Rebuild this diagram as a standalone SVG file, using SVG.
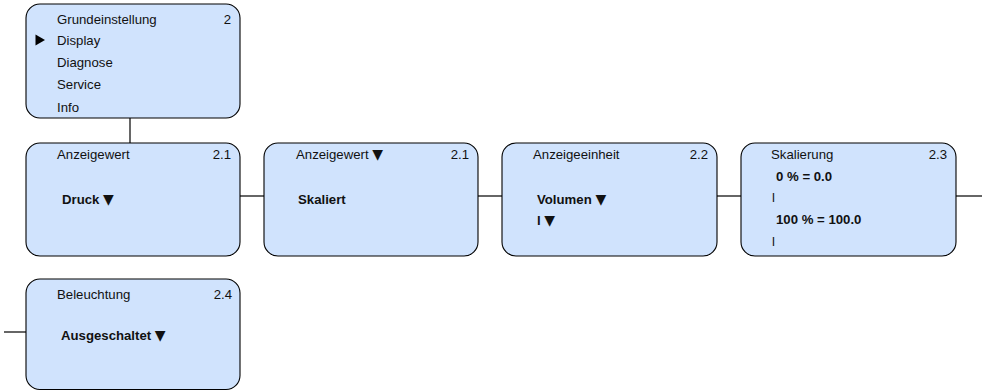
<svg xmlns="http://www.w3.org/2000/svg" width="982" height="391" viewBox="0 0 982 391">
<style>
.box{fill:#d0e3fd;stroke:#000;stroke-width:1.1}
.t{font-family:"Liberation Sans",Arial,sans-serif;font-size:13.2px;fill:#111}
.b{font-weight:bold}
.n{text-anchor:end}
.c{stroke:#000;stroke-width:1.2;fill:none}
.tri{font-family:"DejaVu Sans",sans-serif;font-size:14px}
</style>
<rect width="982" height="391" fill="#fff"/>
<g id="connectors">
<line class="c" x1="130" y1="118" x2="130" y2="143"/>
<line class="c" x1="240" y1="196" x2="264" y2="196"/>
<line class="c" x1="478" y1="196" x2="502" y2="196"/>
<line class="c" x1="717" y1="196" x2="741" y2="196"/>
<line class="c" x1="956" y1="196" x2="982" y2="196"/>
<line class="c" x1="4" y1="332" x2="26" y2="332"/>
</g>
<g id="menu">
<rect class="box" x="26" y="4" width="214" height="114" rx="14"/>
<text class="t" x="57" y="24">Grundeinstellung</text>
<text class="t n" x="231" y="24">2</text>
<path d="M35.5 34.5 L45 40 L35.5 45.5 Z" fill="#000"/>
<text class="t" x="57" y="45">Display</text>
<text class="t" x="57" y="67">Diagnose</text>
<text class="t" x="57" y="89">Service</text>
<text class="t" x="57" y="112">Info</text>
</g>
<g id="anzeigewert1">
<rect class="box" x="26" y="143" width="214" height="113" rx="14"/>
<text class="t" x="57" y="159">Anzeigewert</text>
<text class="t n" x="231" y="159">2.1</text>
<text class="t b" x="62" y="204">Druck <tspan class="tri">▼</tspan></text>
</g>
<g id="anzeigewert2">
<rect class="box" x="264" y="143" width="214" height="113" rx="14"/>
<text class="t" x="296" y="159">Anzeigewert <tspan class="tri">▼</tspan></text>
<text class="t n" x="469" y="159">2.1</text>
<text class="t b" x="298" y="204">Skaliert</text>
</g>
<g id="anzeigeeinheit">
<rect class="box" x="502" y="143" width="215" height="113" rx="14"/>
<text class="t" x="533" y="159">Anzeigeeinheit</text>
<text class="t n" x="708" y="159">2.2</text>
<text class="t b" x="537" y="204">Volumen <tspan class="tri">▼</tspan></text>
<text class="t b" x="537" y="225">l <tspan class="tri">▼</tspan></text>
</g>
<g id="skalierung">
<rect class="box" x="741" y="143" width="215" height="113" rx="14"/>
<text class="t" x="771" y="159">Skalierung</text>
<text class="t n" x="947" y="159">2.3</text>
<text class="t b" x="776" y="181">0 % = 0.0</text>
<text class="t" x="772" y="202">l</text>
<text class="t b" x="776" y="224">100 % = 100.0</text>
<text class="t" x="772" y="246">l</text>
</g>
<g id="beleuchtung">
<rect class="box" x="26" y="279" width="214" height="110.5" rx="14"/>
<text class="t" x="57" y="299">Beleuchtung</text>
<text class="t n" x="232" y="299">2.4</text>
<text class="t b" x="61" y="340">Ausgeschaltet <tspan class="tri">▼</tspan></text>
</g>
</svg>
